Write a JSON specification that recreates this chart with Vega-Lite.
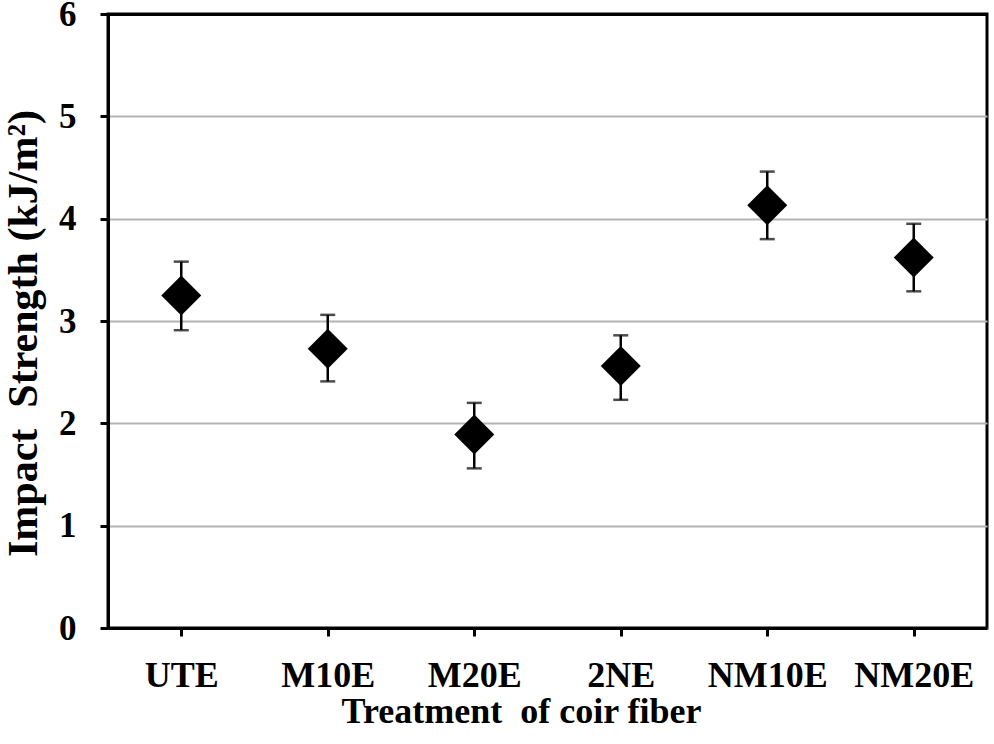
{
  "$schema": "https://vega.github.io/schema/vega-lite/v6.json",
  "width": 879,
  "height": 614,
  "autosize": {"type": "none"},
  "padding": {"left": 108, "top": 14, "right": 7, "bottom": 116},
  "background": "white",
  "config": {
    "view": {"stroke": "black", "strokeWidth": 3},
    "font": "Liberation Serif",
    "axisX": {
      "titleFont": "Liberation Serif",
      "titleFontWeight": "bold",
      "titleFontSize": 36,
      "titleColor": "black",
      "titleX": 413,
      "titleY": 94,
      "titleBaseline": "alphabetic",
      "labelFont": "Liberation Serif",
      "labelFontWeight": "bold",
      "labelFontSize": 36,
      "labelColor": "black",
      "labelAngle": 0,
      "labelPadding": 22,
      "labelOverlap": false,
      "domainColor": "black",
      "domainWidth": 3,
      "tickColor": "black",
      "tickWidth": 3,
      "tickSize": 8,
      "grid": false
    }
  },
  "datasets": {
    "impact": [
      {"treatment": "UTE", "mean": 3.25, "lo": 2.91, "hi": 3.58},
      {"treatment": "M10E", "mean": 2.73, "lo": 2.41, "hi": 3.06},
      {"treatment": "M20E", "mean": 1.89, "lo": 1.56, "hi": 2.20},
      {"treatment": "2NE", "mean": 2.56, "lo": 2.23, "hi": 2.86},
      {"treatment": "NM10E", "mean": 4.13, "lo": 3.80, "hi": 4.46},
      {"treatment": "NM20E", "mean": 3.62, "lo": 3.29, "hi": 3.95}
    ]
  },
  "data": {"name": "impact"},
  "encoding": {
    "x": {
      "field": "treatment",
      "type": "nominal",
      "sort": null,
      "scale": {"type": "point", "padding": 0.5},
      "title": "Treatment\u00a0 of coir fiber"
    }
  },
  "layer": [
    {
      "mark": {"type": "errorbar", "color": "black", "thickness": 2.5, "ticks": {"size": 15, "thickness": 2.5, "color": "black"}},
      "encoding": {
        "y": {
          "field": "lo",
          "type": "quantitative",
          "scale": {"domain": [0, 6], "nice": false},
          "title": "Impact\u00a0 Strength (kJ/m²)",
          "axis": {
            "values": [0, 1, 2, 3, 4, 5, 6],
            "format": "d",
            "titleFont": "Liberation Serif",
            "titleFontWeight": "bold",
            "titleFontSize": 42,
            "titleColor": "black",
            "titleX": -85,
            "titleY": 319,
            "titleAngle": -90,
            "titleBaseline": "middle",
            "titleAlign": "center",
            "labelFont": "Liberation Serif",
            "labelFontWeight": "bold",
            "labelFontSize": 35,
            "labelColor": "black",
            "labelPadding": 24,
            "labelOverlap": false,
            "domainColor": "black",
            "domainWidth": 3,
            "tickColor": "black",
            "tickWidth": 3,
            "tickSize": 8,
            "grid": true,
            "gridColor": {"condition": {"test": "datum.value === 6", "value": "black"}, "value": "#b3b3b3"},
            "gridWidth": {"condition": {"test": "datum.value === 6", "value": 3}, "value": 2}
          }
        },
        "y2": {"field": "hi"}
      }
    },
    {
      "mark": {"type": "point", "shape": "diamond", "filled": true, "color": "black", "opacity": 1, "size": 1600},
      "encoding": {
        "y": {
          "field": "mean",
          "type": "quantitative",
          "title": "Impact\u00a0 Strength (kJ/m²)",
          "axis": {
            "values": [0, 1, 2, 3, 4, 5, 6],
            "format": "d",
            "titleFont": "Liberation Serif",
            "titleFontWeight": "bold",
            "titleFontSize": 42,
            "titleColor": "black",
            "titleX": -85,
            "titleY": 319,
            "titleAngle": -90,
            "titleBaseline": "middle",
            "titleAlign": "center",
            "labelFont": "Liberation Serif",
            "labelFontWeight": "bold",
            "labelFontSize": 35,
            "labelColor": "black",
            "labelPadding": 24,
            "labelOverlap": false,
            "domainColor": "black",
            "domainWidth": 3,
            "tickColor": "black",
            "tickWidth": 3,
            "tickSize": 8,
            "grid": true,
            "gridColor": {"condition": {"test": "datum.value === 6", "value": "black"}, "value": "#b3b3b3"},
            "gridWidth": {"condition": {"test": "datum.value === 6", "value": 3}, "value": 2}
          }
        }
      }
    }
  ]
}
